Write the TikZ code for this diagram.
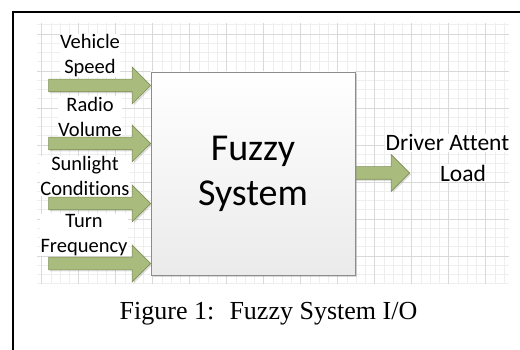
\documentclass[tikz,border=0pt]{standalone}
\usepackage{fontspec}
\setmainfont{Carlito}[Ligatures=NoCommon]
\newfontfamily\capfont{Liberation Serif}
\usepackage{tikz}
\usetikzlibrary{shapes.arrows, shadows}
\definecolor{arrowgreen}{HTML}{A9BC7D}
\definecolor{arrowedge}{HTML}{7E8F57}
\definecolor{gridminor}{HTML}{EEEEEE}
\definecolor{gridmajor}{HTML}{D9D9D9}

\begin{document}
\begin{tikzpicture}[x=1pt, y=-1pt,
  inlabel/.style={fill=white, align=center, inner sep=0.5pt, font=\fontsize{20.5}{25}\selectfont},
  outlabel/.style={fill=white, inner sep=0.5pt, font=\fontsize{23.5}{28}\selectfont},
  blockarrow/.style={single arrow, fill=arrowgreen, draw=arrowedge, line width=0.6pt,
    minimum width=36pt, single arrow head extend=12pt, inner sep=6pt, anchor=tip,
    drop shadow={opacity=0.25, shadow xshift=1.5pt, shadow yshift=-1.5pt}},
  fuzzybox/.style={draw=black!45, top color=white, bottom color=black!8,
    minimum width=204pt, minimum height=203pt, align=center,
    font=\fontsize{38}{45}\selectfont,
    drop shadow={opacity=0.3, shadow xshift=2pt, shadow yshift=-2pt}}]
\useasboundingbox (0,0) rectangle (520,350);

% Frame
\draw[line width=2pt] (12.5,352) -- (12.5,12.5) -- (522,12.5);

% Background grid
\foreach \i in {0,...,50}
  \draw[gridminor, line width=0.6pt] ({41.7+9.25*\i},23) -- ({41.7+9.25*\i},284);
\foreach \j in {0,...,28}
  \draw[gridminor, line width=0.6pt] (37,{24.75+9.25*\j}) -- (509,{24.75+9.25*\j});
\foreach \i in {0,...,12}
  \draw[gridmajor, line width=0.6pt] ({41.7+37*\i},23) -- ({41.7+37*\i},284);
\foreach \j in {0,...,6}
  \draw[gridmajor, line width=0.6pt] (37,{34+37*\j}) -- (509,{34+37*\j});

% Input labels
\node[inlabel] (lspeed) at (90,55.5) {Vehicle\\Speed};
\node[inlabel] (lradio) at (90,116.5) {Radio\\Volume};
\node[inlabel] (lsun) at (85,176) {Sunlight\\Conditions};
\node[inlabel] (lturn) at (84,235) {Turn\\Frequency};

% Input arrows
\node[blockarrow, minimum height=102pt] (aspeed) at (151,85.5) {};
\node[blockarrow, minimum height=102pt] (aradio) at (151,143.5) {};
\node[blockarrow, minimum height=102pt] (asun) at (151,203.5) {};
\node[blockarrow, minimum height=102pt] (aturn) at (151,263.5) {};

% Output arrow
\node[blockarrow, minimum height=55pt] (aout) at (410,173) {};

% Fuzzy system
\node[fuzzybox] (fuzzy) at (253,173.5) {Fuzzy\\System};

% Output label
\node[outlabel, anchor=west] (ldriver) at (385,143) {Driver Attent};
\node[outlabel] (lload) at (463,173) {Load};

% Caption
\node[font=\capfont\fontsize{26}{30}\selectfont] (caption) at (268.5,314) {Figure 1:~ Fuzzy System I/O};
\end{tikzpicture}
\end{document}
